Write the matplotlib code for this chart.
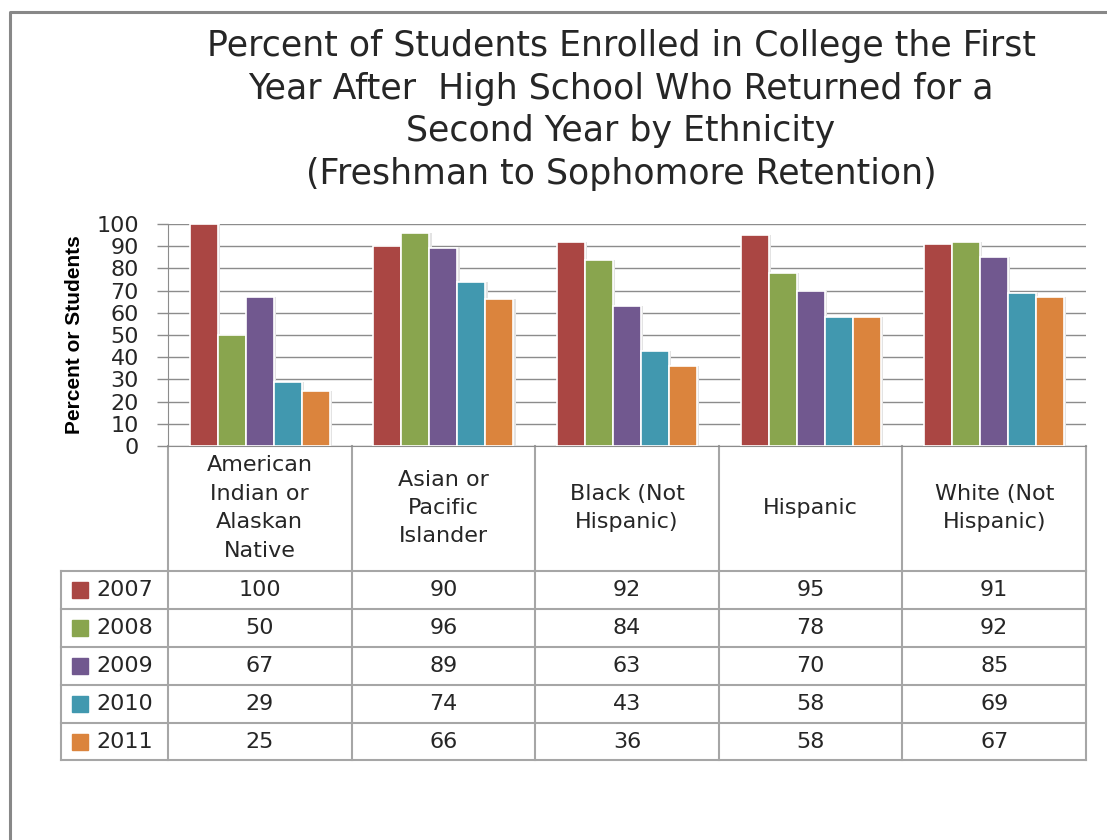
import matplotlib
matplotlib.use("Agg")
import matplotlib.pyplot as plt
from matplotlib.lines import Line2D
from matplotlib.patches import Rectangle
import numpy as np

# ---- data ----
categories = ["American\nIndian or\nAlaskan\nNative", "Asian or\nPacific\nIslander",
              "Black (Not\nHispanic)", "Hispanic", "White (Not\nHispanic)"]
years = ["2007", "2008", "2009", "2010", "2011"]
v2007 = [100, 90, 92, 95, 91]
v2008 = [50, 96, 84, 78, 92]
v2009 = [67, 89, 63, 70, 85]
v2010 = [29, 74, 43, 58, 69]
v2011 = [25, 66, 36, 58, 67]
series = [v2007, v2008, v2009, v2010, v2011]
colors = ["#AA4643", "#89A54E", "#71588F", "#4198AF", "#DB843D"]
yticks = [0, 10, 20, 30, 40, 50, 60, 70, 80, 90, 100]
title = ("Percent of Students Enrolled in College the First\n"
         "Year After  High School Who Returned for a\n"
         "Second Year by Ethnicity\n"
         "(Freshman to Sophomore Retention)")
ylabel = "Percent or Students"

W, H = 1107, 840
fig = plt.figure(figsize=(W / 100, H / 100), dpi=100)
fig.patch.set_facecolor("white")
plt.rcParams['font.family'] = ['DejaVu Sans']

GRID = "#8C8C8C"
TBL = "#A6A6A6"
TXT = "#262626"
FS = 16

# overlay in pixel coordinates
ov = fig.add_axes([0, 0, 1, 1], zorder=0)
ov.set_xlim(0, W)
ov.set_ylim(H, 0)
ov.axis("off")

# outer border (left and top)
ov.add_line(Line2D([10, 10, W], [H, 12, 12], color="#888888", lw=2.2))

# plot area
x0, x1 = 168, 1086
ytop, ybot = 224, 446
ax = fig.add_axes([x0 / W, 1 - ybot / H, (x1 - x0) / W, (ybot - ytop) / H], zorder=2)
ax.patch.set_alpha(0)

n = len(categories)
xs = np.arange(n)
bw = 0.1525
for k, (vals, c) in enumerate(zip(series, colors)):
    # subtle shadow
    ax.bar(xs + (k - 2) * bw + 0.012, vals, width=bw, color="#E3E3E3",
           linewidth=0, zorder=2)
    ax.bar(xs + (k - 2) * bw, vals, width=bw, color=c, edgecolor="white",
           linewidth=1.2, zorder=3)

ax.set_xlim(-0.5, n - 0.5)
ax.set_ylim(0, 100)
ax.set_yticks(yticks)
ax.set_yticklabels([str(t) for t in yticks], fontsize=FS, color=TXT)
ax.set_xticks([])
ax.yaxis.grid(True, color=GRID, lw=1.0, zorder=0)
ax.set_axisbelow(True)
for s in ["top", "right"]:
    ax.spines[s].set_visible(False)
ax.spines["left"].set_color(GRID)
ax.spines["bottom"].set_color(GRID)
ax.tick_params(axis="y", length=8, width=1, color=GRID, pad=13)
ax.set_ylabel(ylabel, fontsize=15, fontweight="bold", color="black",
              labelpad=9, family=["Liberation Sans Narrow", "Liberation Sans", "DejaVu Sans"])

# title
fig.text(621 / W, 1 - 29 / H, title, ha="center", va="top", fontsize=25,
         color=TXT, linespacing=1.32)

# ---- data table ----
colw = (x1 - x0) / n
bounds = [x0 + colw * i for i in range(n + 1)]
hdr_bot = 571
row_y = [571, 609, 647, 685, 723, 760]
tleft = 61

for b in bounds:
    ov.add_line(Line2D([b, b], [ybot, hdr_bot], color=TBL, lw=1.5))
for y in row_y:
    ov.add_line(Line2D([tleft, x1], [y, y], color=TBL, lw=1.5))
for b in [tleft] + bounds:
    ov.add_line(Line2D([b, b], [row_y[0], row_y[-1]], color=TBL, lw=1.5))

for i, cat in enumerate(categories):
    cx = x0 + colw * (i + 0.5)
    ov.text(cx, 508, cat, ha="center", va="center", fontsize=FS,
            color=TXT, linespacing=1.53)

for r, (yr, vals, c) in enumerate(zip(years, series, colors)):
    cy = (row_y[r] + row_y[r + 1]) / 2
    ov.add_patch(Rectangle((72, cy - 8), 16, 16, color=c))
    ov.text(96, cy, yr, ha="left", va="center", fontsize=FS, color=TXT)
    for i, v in enumerate(vals):
        cx = x0 + colw * (i + 0.5)
        ov.text(cx, cy, str(v), ha="center", va="center", fontsize=FS, color=TXT)

fig.savefig("out.png", dpi=100, facecolor="white")
